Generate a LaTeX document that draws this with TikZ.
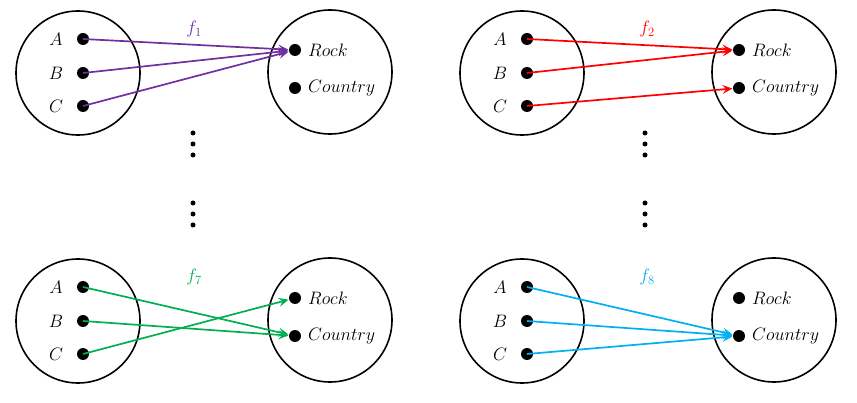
\RequirePackage{fix-cm}
\documentclass[tikz,border=0pt]{standalone}
\usetikzlibrary{arrows.meta}
\definecolor{fpurple}{RGB}{112,48,160}
\definecolor{fred}{RGB}{255,0,0}
\definecolor{fgreen}{RGB}{0,176,80}
\definecolor{fblue}{RGB}{0,176,240}
\tikzset{
  ring/.style={circle, draw=black, line width=1.6pt, minimum size=124pt, inner sep=0pt},
  dot/.style={circle, fill=black, minimum size=12pt, inner sep=0pt},
  vdot/.style={circle, fill=black, minimum size=5pt, inner sep=0pt},
  lab/.style={font=\fontsize{18}{21}\selectfont, inner sep=0pt},
  flab/.style={font=\fontsize{18}{21}\selectfont, inner sep=0pt},
  arr/.style={line width=1.7pt, -{Stealth[length=10pt,width=9pt,inset=4pt]}, shorten >=0.5pt},
}
\newcommand\mkpanel[2]{%
\begin{scope}[shift={#2}, name prefix=#1-]
  \node[ring] (L) at (78,73) {};
  \node[ring] (Rc) at (330,72) {};
  \node[dot] (A) at (83,39) {};
  \node[dot] (B) at (83,73) {};
  \node[dot] (C) at (83,106) {};
  \node[dot] (R) at (295,50) {};
  \node[dot] (K) at (295,88) {};
  \node[lab] (tA) at (56,39) {$A$};
  \node[lab] (tB) at (56,73) {$B$};
  \node[lab] (tC) at (56,106) {$C$};
  \node[lab, anchor=west] (tR) at (308,50) {$Rock$};
  \node[lab, anchor=west] (tK) at (308,88) {$Country$};
\end{scope}}
\begin{document}
\begin{tikzpicture}[x=1pt,y=-1pt]
\useasboundingbox (0,0) rectangle (857,403);
\mkpanel{p1}{(0,0)}
\mkpanel{p2}{(444,0)}
\mkpanel{p7}{(0,248)}
\mkpanel{p8}{(444,248)}
% labels
\node[flab, text=fpurple] (f1) at (194,29) {$f_1$};
\node[flab, text=fred] (f2) at (647,29) {$f_2$};
\node[flab, text=fgreen] (f7) at (194,277) {$f_7$};
\node[flab, text=fblue] (f8) at (647,277) {$f_8$};
% arrows
\draw[arr, fpurple] (p1-A.center) -- (p1-R);
\draw[arr, fpurple] (p1-B.center) -- (p1-R);
\draw[arr, fpurple] (p1-C.center) -- (p1-R);
\draw[arr, fred] (p2-A.center) -- (p2-R);
\draw[arr, fred] (p2-B.center) -- (p2-R);
\draw[arr, fred] (p2-C.center) -- (p2-K);
\draw[arr, fgreen] (p7-A.center) -- (p7-K);
\draw[arr, fgreen] (p7-B.center) -- (p7-K);
\draw[arr, fgreen] (p7-C.center) -- (p7-R);
\draw[arr, fblue] (p8-A.center) -- (p8-K);
\draw[arr, fblue] (p8-B.center) -- (p8-K);
\draw[arr, fblue] (p8-C.center) -- (p8-K);
% vertical ellipses
\foreach \x/\n in {193/l,645/r}{
  \foreach \y/\m in {133/1,144/2,155/3,203/4,214/5,225/6}{
    \node[vdot] (e\n\m) at (\x,\y) {};
  }
}
\end{tikzpicture}
\end{document}
